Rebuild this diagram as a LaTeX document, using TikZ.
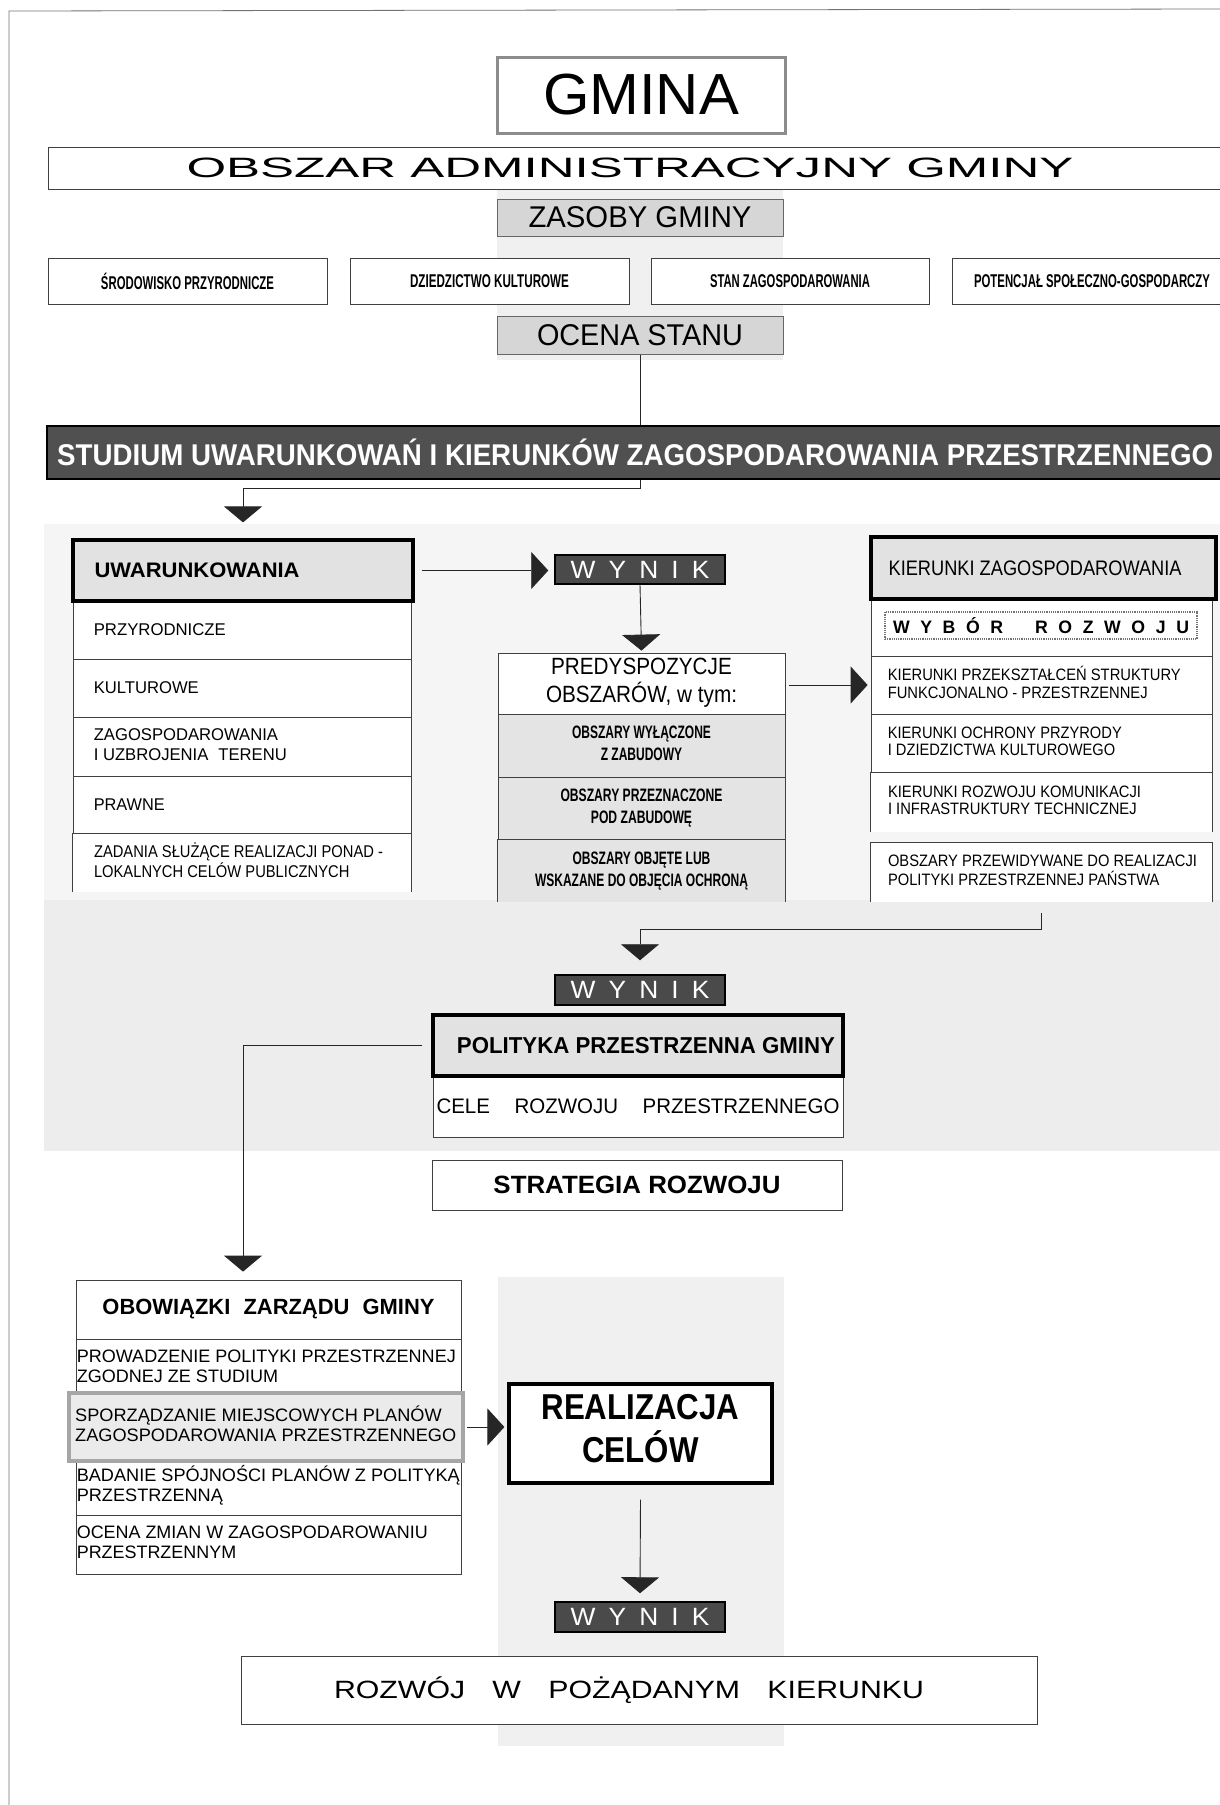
\documentclass[tikz,border=0pt]{standalone}
\usepackage{fontspec}
\usepackage{graphicx}
\setmainfont{Liberation Sans}
\usetikzlibrary{arrows.meta,calc}
\newcommand\fitw[2]{\resizebox{#1}{\height}{#2}}
\newcommand\ltab[1]{\begin{tabular}{@{}l@{}}#1\end{tabular}}
\newcommand\ctab[1]{\begin{tabular}{@{}c@{}}#1\end{tabular}}
\newcommand\fs[2]{\fontsize{#1}{#2}\selectfont}
\newcommand\bx[7]{\node[#6, minimum width={#4-#2}, minimum height={#5-#3}] (#1) at ({(#2+#4)/2},{(#3+#5)/2}) {#7};}
\newcommand\wynik{W\hspace{.5em}Y\hspace{.5em}N\hspace{.5em}I\hspace{.5em}K}
\definecolor{bgA}{HTML}{F5F5F5}
\definecolor{bgB}{HTML}{EDEDED}
\definecolor{bgC}{HTML}{F0F0F0}
\definecolor{barfill}{HTML}{505050}
\definecolor{wynfill}{HTML}{4A4A4A}
\definecolor{headgray}{HTML}{E2E2E2}
\definecolor{zasgray}{HTML}{D6D6D6}
\definecolor{predgray}{HTML}{E4E4E4}
\definecolor{sporgray}{HTML}{EBEBEB}
\tikzset{
  box/.style={rectangle, draw=black!75, line width=0.8pt, fill=white, inner sep=0pt},
  rowfill/.style={rectangle, fill=white, inner sep=0pt},
  headbox/.style={rectangle, draw=black, line width=3.2pt, fill=headgray, inner sep=0pt},
  thickwhite/.style={rectangle, draw=black, line width=3.2pt, fill=white, inner sep=0pt},
  graybox/.style={rectangle, draw=black!60, line width=1pt, fill=zasgray, inner sep=0pt},
  wbox/.style={rectangle, draw=black, line width=1.5pt, fill=wynfill, text=white, inner sep=0pt},
  sporbox/.style={rectangle, draw=black!35, line width=4pt, fill=sporgray, inner sep=0pt},
  txt/.style={inner sep=0pt},
  side/.style={draw=black!75, line width=0.8pt},
  conn/.style={draw=black!85, line width=0.9pt},
  tipd/.style={-{Triangle[width=38pt,length=16pt]}},
  tipr/.style={-{Triangle[width=37pt,length=17pt]}}
}
\begin{document}
\begin{tikzpicture}[x=1pt,y=-1pt]
\useasboundingbox (0,0) rectangle (1220,1805);
\fill[white] (0,0) rectangle (1220,1805);
% background tints
\fill[bgC] (497,188) rectangle (783,360);
\fill[bgA] (44,524) rectangle (1220,900);
\fill[bgB] (44,900) rectangle (1220,1151);
\fill[bgC] (498,1277) rectangle (784,1746);
% page border of the scan
\draw[black!55, line width=0.8pt] (9,1805) -- (9,11) -- (1220,9);

% top part
\bx{gmina}{497}{57}{785}{133}{box, draw=black!45, line width=3pt}{\fs{58}{60}\fitw{196pt}{GMINA}}
\bx{obszar}{48}{147}{1240}{189}{box}{}
\node[txt] (tobszar) at (630,168) {\fs{28}{30}\fitw{887pt}{OBSZAR ADMINISTRACYJNY GMINY}};
\bx{zasoby}{497}{199}{783}{236}{graybox}{\fs{30}{31}\fitw{223pt}{ZASOBY GMINY}}
\bx{srod}{48}{258}{327}{304}{box}{\fs{18.5}{20}\bfseries\fitw{173pt}{ŚRODOWISKO PRZYRODNICZE}}
\bx{dzie}{350}{258}{629}{304}{box}{\fs{18.5}{20}\bfseries\fitw{159pt}{DZIEDZICTWO KULTUROWE}}
\bx{stan}{651}{258}{929}{304}{box}{\fs{18.5}{20}\bfseries\fitw{160pt}{STAN ZAGOSPODAROWANIA}}
\bx{pot}{952}{258}{1232}{304}{box}{\fs{18.5}{20}\bfseries\fitw{236pt}{POTENCJAŁ SPOŁECZNO-GOSPODARCZY}}
\bx{ocena}{497}{316}{783}{354}{graybox}{\fs{30}{31}\fitw{206pt}{OCENA STANU}}

% STUDIUM bar
\bx{studium}{47}{426}{1240}{479}{box, fill=barfill, draw=black, line width=1.5pt}{}
\node[txt, anchor=west, text=white] (tstudium) at (57,452.5) {\fs{30}{32}\bfseries\fitw{1156pt}{STUDIUM UWARUNKOWAŃ I KIERUNKÓW ZAGOSPODAROWANIA PRZESTRZENNEGO}};
\draw[conn] (ocena.south) -- (ocena.south |- studium.north);

% UWARUNKOWANIA column
\bx{uw1}{73}{601}{411}{659}{box}{}
\bx{uw2}{73}{659}{411}{717}{box}{}
\bx{uw3}{73}{717}{411}{776}{box}{}
\bx{uw4}{73}{776}{411}{834}{box}{}
\bx{uw5}{73}{834}{411}{892}{rowfill}{}
\draw[side] (uw5.south west) -- (uw5.north west) -- (uw5.north east) -- (uw5.south east);
\bx{uwh}{73}{540}{413}{601}{headbox}{}
\node[txt, anchor=west] (tuwh) at ([xshift=23pt]uwh.west) {\fs{21}{22}\bfseries\fitw{205pt}{UWARUNKOWANIA}};
\node[txt, anchor=west] (tuw1) at ([xshift=21pt]uw1.west) {\fs{17}{19.5}\fitw{132pt}{PRZYRODNICZE}};
\node[txt, anchor=west] (tuw2) at ([xshift=21pt]uw2.west) {\fs{17}{19.5}\fitw{105pt}{KULTUROWE}};
\node[txt, anchor=west] (tuw3) at ([xshift=21pt]uw3.west) {\fs{17}{19.5}\fitw{193pt}{\ltab{ZAGOSPODAROWANIA\\I UZBROJENIA\hspace{0.6em}TERENU}}};
\node[txt, anchor=west] (tuw4) at ([xshift=21pt]uw4.west) {\fs{17}{19.5}\fitw{71pt}{PRAWNE}};
\node[txt, anchor=west] (tuw5) at ([xshift=21pt]uw5.west) {\fs{17}{18.5}\fitw{289pt}{\ltab{ZADANIA SŁUŻĄCE REALIZACJI PONAD -\\LOKALNYCH CELÓW PUBLICZNYCH}}};
\draw[conn, tipd] (studium.south -| ocena.south) |- ($(uwh.north)+(0,-50)$) -- ($(uwh.north)+(0,-16)$);

% WYNIK 1 and PREDYSPOZYCJE
\bx{wyn1}{555}{555}{725}{584}{wbox}{\fs{25}{26}\fitw{139pt}{\wynik}}
\draw[conn, tipr] ([xshift=7pt]uwh.east) -- ([xshift=-6pt]wyn1.west |- uwh.east);
\bx{predh}{498}{653}{785}{714}{box}{\fs{23.5}{24}\fitw{191pt}{\ctab{PREDYSPOZYCJE\\OBSZARÓW, w tym:}}}
\bx{p1}{498}{714}{785}{777}{box, fill=predgray}{\fs{18}{22}\bfseries\fitw{139pt}{\ctab{OBSZARY WYŁĄCZONE\\Z ZABUDOWY}}}
\bx{p2}{498}{777}{785}{840}{box, fill=predgray}{\fs{18}{22}\bfseries\fitw{162pt}{\ctab{OBSZARY PRZEZNACZONE\\POD ZABUDOWĘ}}}
\bx{p3}{498}{840}{785}{902}{rowfill, fill=predgray}{\fs{18}{22}\bfseries\fitw{213pt}{\ctab{OBSZARY OBJĘTE LUB\\WSKAZANE DO OBJĘCIA OCHRONĄ}}}
\draw[side] (p3.south west) -- (p3.north west) -- (p3.north east) -- (p3.south east);
\draw[conn, tipd] (wyn1.south) -- ([yshift=2pt]predh.north);

% KIERUNKI column
\bx{kw}{871}{599}{1212}{656}{box}{}
\bx{k1}{871}{656}{1212}{714}{box}{}
\bx{k2}{871}{714}{1212}{773}{box}{}
\bx{k3}{871}{773}{1212}{832}{rowfill}{}
\draw[side] (k3.south west) -- (k3.north west) -- (k3.north east) -- (k3.south east);
\bx{kob}{871}{843}{1212}{902}{rowfill}{}
\draw[side] (kob.south west) -- (kob.north west) -- (kob.north east) -- (kob.south east);
\bx{kh}{871}{537}{1216}{599}{headbox}{}
\node[txt, anchor=west] (tkh) at ([xshift=19pt]kh.west) {\fs{21}{22}\fitw{293pt}{KIERUNKI ZAGOSPODAROWANIA}};
\bx{wyb}{885}{612}{1197}{639}{box, draw=black!55, line width=1.2pt, densely dotted}{\fs{18}{20}\bfseries\fitw{296pt}{W\hspace{.6em}Y\hspace{.6em}B\hspace{.6em}Ó\hspace{.6em}R\hspace{1.8em}R\hspace{.6em}O\hspace{.6em}Z\hspace{.6em}W\hspace{.6em}O\hspace{.6em}J\hspace{.6em}U}}
\node[txt, anchor=west] (tk1) at ([xshift=17pt]k1.west) {\fs{16.5}{17.5}\fitw{293pt}{\ltab{KIERUNKI PRZEKSZTAŁCEŃ STRUKTURY\\FUNKCJONALNO - PRZESTRZENNEJ}}};
\node[txt, anchor=west] (tk2) at ([xshift=17pt]k2.west) {\fs{16.5}{17.5}\fitw{234pt}{\ltab{KIERUNKI OCHRONY PRZYRODY\\I DZIEDZICTWA KULTUROWEGO}}};
\node[txt, anchor=west] (tk3) at ([xshift=17pt]k3.west) {\fs{16.5}{17.5}\fitw{253pt}{\ltab{KIERUNKI ROZWOJU KOMUNIKACJI\\I INFRASTRUKTURY TECHNICZNEJ}}};
\node[txt, anchor=west] (tkob) at ([xshift=17pt]kob.west) {\fs{16.5}{17.5}\fitw{309pt}{\ltab{OBSZARY PRZEWIDYWANE DO REALIZACJI\\POLITYKI PRZESTRZENNEJ PAŃSTWA}}};
\draw[conn, tipr] ([xshift=4pt]predh.east |- k1.west) -- ([xshift=-3pt]k1.west);

% WYNIK 2 and POLITYKA
\bx{wyn2}{555}{975}{725}{1005}{wbox}{\fs{25}{26}\fitw{139pt}{\wynik}}
\draw[conn, tipd] ([yshift=-11pt]kob.south) |- ([yshift=45pt]wyn2.north) -- ([yshift=14pt]wyn2.north);
\bx{cele}{433}{1076}{843}{1137}{box}{\fs{21}{22}\fitw{403pt}{CELE\hspace{1.2em}ROZWOJU\hspace{1.2em}PRZESTRZENNEGO}}
\bx{polh}{433}{1015}{843}{1076}{headbox}{}
\node[txt] (tpolh) at ([xshift=8pt]polh.center) {\fs{23}{24}\bfseries\fitw{378pt}{POLITYKA PRZESTRZENNA GMINY}};
\bx{strat}{432}{1160}{842}{1210}{box}{\fs{25}{26}\bfseries\fitw{287pt}{STRATEGIA ROZWOJU}}

% OBOWIAZKI column
\bx{oboh}{76}{1280}{461}{1339}{box}{\fs{22}{23}\bfseries\fitw{332pt}{OBOWIĄZKI\hspace{0.6em}ZARZĄDU\hspace{0.6em}GMINY}}
\bx{o1}{76}{1339}{461}{1397}{box}{}
\bx{o3}{76}{1457}{461}{1515}{box}{}
\bx{o4}{76}{1515}{461}{1574}{box}{}
\bx{spor}{69}{1393}{463}{1461}{sporbox}{}
\node[txt, anchor=west] (to1) at ([xshift=1pt]o1.west) {\fs{18}{20}\fitw{379pt}{\ltab{PROWADZENIE POLITYKI PRZESTRZENNEJ\\ZGODNEJ ZE STUDIUM}}};
\node[txt, anchor=west] (tspor) at ([xshift=8pt]spor.west) {\fs{18}{20}\fitw{381pt}{\ltab{SPORZĄDZANIE MIEJSCOWYCH PLANÓW\\ZAGOSPODAROWANIA PRZESTRZENNEGO}}};
\node[txt, anchor=west] (to3) at ([xshift=1pt]o3.west) {\fs{18}{20}\fitw{383pt}{\ltab{BADANIE SPÓJNOŚCI PLANÓW Z POLITYKĄ\\PRZESTRZENNĄ}}};
\node[txt, anchor=west] (to4) at ([xshift=1pt]o4.west) {\fs{18}{20}\fitw{351pt}{\ltab{OCENA ZMIAN W ZAGOSPODAROWANIU\\PRZESTRZENNYM}}};
\draw[conn, tipd] ([xshift=-9pt]polh.west) -| ($(oboh.north -| uwh.north)+(0,-8)$);

% REALIZACJA and result
\bx{real}{509}{1384}{772}{1483}{thickwhite}{\fs{36}{36}\bfseries\fitw{198pt}{\ctab{REALIZACJA\\CELÓW}}}
\draw[conn, tipr] ([xshift=2pt]spor.east) -- ([xshift=-3pt]real.west |- spor.east);
\bx{wyn3}{555}{1602}{725}{1632}{wbox}{\fs{25}{26}\fitw{139pt}{\wynik}}
\draw[conn, tipd] ([yshift=-15pt]real.south) -- ([yshift=8pt]wyn3.north);
\bx{roz}{241}{1656}{1037}{1724}{box}{}
\node[txt] (troz) at ([xshift=-10pt]roz.center) {\fs{25}{27}\fitw{590pt}{ROZWÓJ\hspace{.9em}W\hspace{.9em}POŻĄDANYM\hspace{.9em}KIERUNKU}};
\end{tikzpicture}
\end{document}
